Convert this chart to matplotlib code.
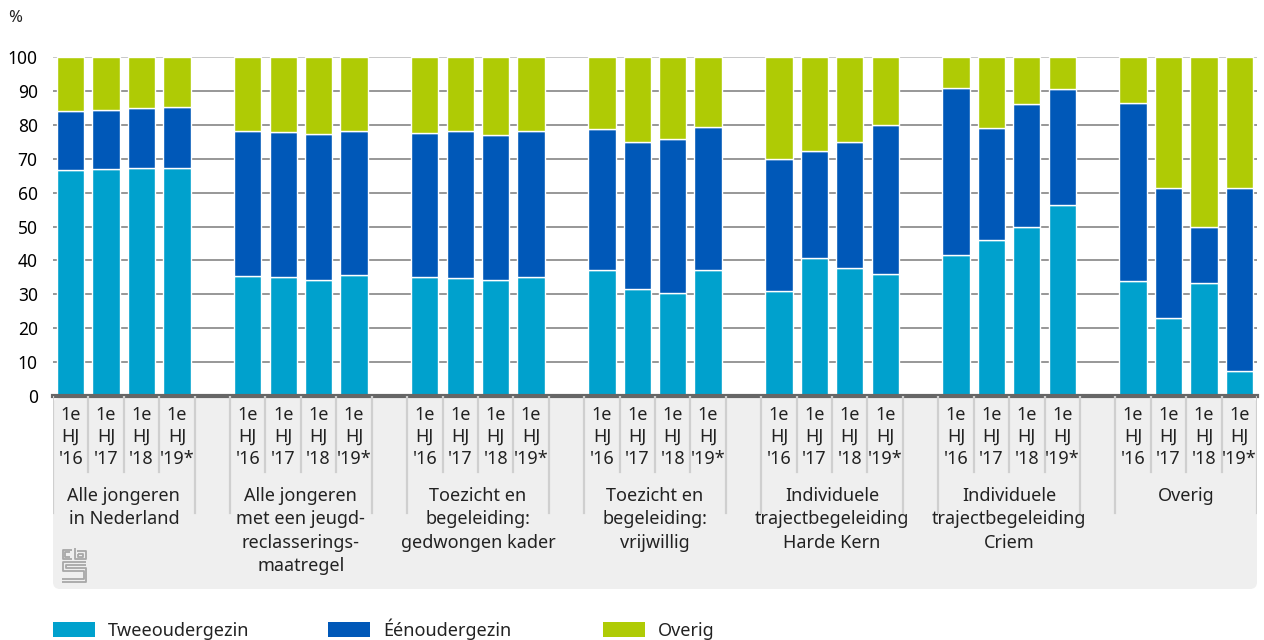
import numpy as np
import matplotlib
matplotlib.use('Agg')
import matplotlib.pyplot as plt
from matplotlib.patches import FancyBboxPatch, Rectangle
from matplotlib.transforms import IdentityTransform

plt.rcParams['font.family'] = ['Noto Sans', 'DejaVu Sans']
plt.rcParams['font.size'] = 12
plt.rcParams['text.color'] = '#222222'

# data: share of youngsters per family type (%)
groups = ['Alle jongeren\nin Nederland',
          'Alle jongeren\nmet een jeugd-\nreclasserings-\nmaatregel',
          'Toezicht en\nbegeleiding:\ngedwongen kader',
          'Toezicht en\nbegeleiding:\nvrijwillig',
          'Individuele\ntrajectbegeleiding\nHarde Kern',
          'Individuele\ntrajectbegeleiding\nCriem',
          'Overig']
periods = ["1e\nHJ\n'16", "1e\nHJ\n'17", "1e\nHJ\n'18", "1e\nHJ\n'19*"]
series = ['Tweeoudergezin', 'Éénoudergezin', 'Overig']
colors = ['#00a1cd', '#0058b8', '#afcb05']

tweeouder = [[66.7, 67.0, 67.3, 67.3],
             [35.3, 35.0, 34.3, 35.7],
             [35.1, 34.8, 34.3, 35.1],
             [37.2, 31.5, 30.4, 37.2],
             [31.0, 40.8, 37.7, 36.0],
             [41.6, 45.9, 49.8, 56.2],
             [34.0, 23.0, 33.2, 7.4]]
eenouder = [[17.4, 17.3, 17.6, 18.0],
            [43.0, 42.9, 42.9, 42.6],
            [42.6, 43.4, 42.8, 43.1],
            [41.5, 43.3, 45.4, 42.1],
            [39.0, 31.6, 37.1, 43.8],
            [49.4, 33.3, 36.3, 34.3],
            [52.4, 38.3, 16.6, 53.9]]
overig = [[15.9, 15.7, 15.1, 14.7],
          [21.7, 22.1, 22.8, 21.7],
          [22.3, 21.8, 22.9, 21.8],
          [21.3, 25.2, 24.2, 20.7],
          [30.0, 27.6, 25.2, 20.2],
          [9.0, 20.8, 13.9, 9.5],
          [13.6, 38.7, 50.2, 38.7]]

W, H = 1264, 640
fig = plt.figure(figsize=(W / 100, H / 100), dpi=100)

ng, nb = len(groups), len(periods)
slot = nb + 1
x = np.array([g * slot + i for g in range(ng) for i in range(nb)])
xlim = (-0.5, ng * slot - 1.5)

ax = fig.add_axes([53 / W, (H - 396) / H, 1204 / W, 339 / H])
v1 = np.array(tweeouder).ravel()
v2 = np.array(eenouder).ravel()
v3 = np.array(overig).ravel()
bw = 0.77
ax.bar(x, v1, bw, color=colors[0], edgecolor='white', linewidth=1, zorder=2)
ax.bar(x, v2, bw, bottom=v1, color=colors[1], edgecolor='white', linewidth=1, zorder=2)
ax.bar(x, v3, bw, bottom=v1 + v2, color=colors[2], edgecolor='white', linewidth=1, zorder=2)

for yv in range(10, 100, 10):
    ax.axhline(yv, color='#858585', lw=1.2, zorder=0)
ax.axhline(100, color='#bdbdbd', lw=1.2, zorder=0)
ax.axhline(0, color='#666666', lw=3, zorder=3, clip_on=False)

ax.set_xlim(*xlim)
ax.set_ylim(0, 100)
ax.set_yticks(range(0, 101, 10))
ax.set_xticks([])
ax.tick_params(axis='y', length=0, pad=11, labelsize=12.5)
for s in ax.spines.values():
    s.set_visible(False)
fig.text(8 / W, 1 - 18 / H, '%', va='center', ha='left', fontsize=12)

# category band under the axis
fig.patches.append(FancyBboxPatch((53, H - 589), 1204, 191,
                                  boxstyle='round,pad=0,rounding_size=7',
                                  transform=IdentityTransform(),
                                  facecolor='#efefef', edgecolor='none', zorder=-1))
lax = fig.add_axes([53 / W, (H - 590) / H, 1204 / W, 194 / H])
lax.set_zorder(2)
lax.set_xlim(*xlim)
lax.set_ylim(194, 0)
lax.axis('off')

for g in range(ng):
    left = g * slot - 0.5
    for k in range(nb + 1):
        long_line = k in (0, nb)
        lax.plot([left + k, left + k], [0, 117 if long_line else 76],
                 color='#cfcfcf', lw=1.6)
    for i in range(nb):
        lax.text(g * slot + i, 41, periods[i], ha='center', va='center',
                 linespacing=1.28, fontsize=13)
    lax.text(g * slot + (nb - 1) / 2, 91, groups[g], ha='center', va='top',
             linespacing=1.38, fontsize=13)

# cbs logo (rough)
lg = fig.add_axes([62 / W, (H - 583) / H, 25 / W, 36 / H])
lg.set_zorder(2)
lg.set_xlim(0, 25)
lg.set_ylim(0, 36)
lg.axis('off')
lc = '#a8a8a8'
for path in ([(10, 33), (1, 33), (1, 24), (10, 24)],
             [(8, 31), (3, 31), (3, 26), (8, 26)],
             [(13, 35), (13, 24), (24, 24), (24, 32), (15, 32)],
             [(16, 29), (16, 26), (21, 26), (21, 29), (16, 29)],
             [(24, 21), (1, 21), (1, 12), (22, 12), (22, 4), (0, 4)],
             [(24, 18), (4, 18), (4, 15), (24, 15), (24, 1), (0, 1)]):
    xs, ys = zip(*path)
    lg.plot(xs, ys, color=lc, lw=1.3, solid_capstyle='butt')

# legend
leg_x = [53, 328, 603]
for lx, name, c in zip(leg_x, series, colors):
    fig.patches.append(Rectangle((lx, H - 637), 42, 15, transform=IdentityTransform(),
                                 facecolor=c, edgecolor='none'))
    fig.text((lx + 55) / W, (H - 636) / H, name, va='baseline', ha='left', fontsize=13)

fig.savefig('out.png', dpi=100)
